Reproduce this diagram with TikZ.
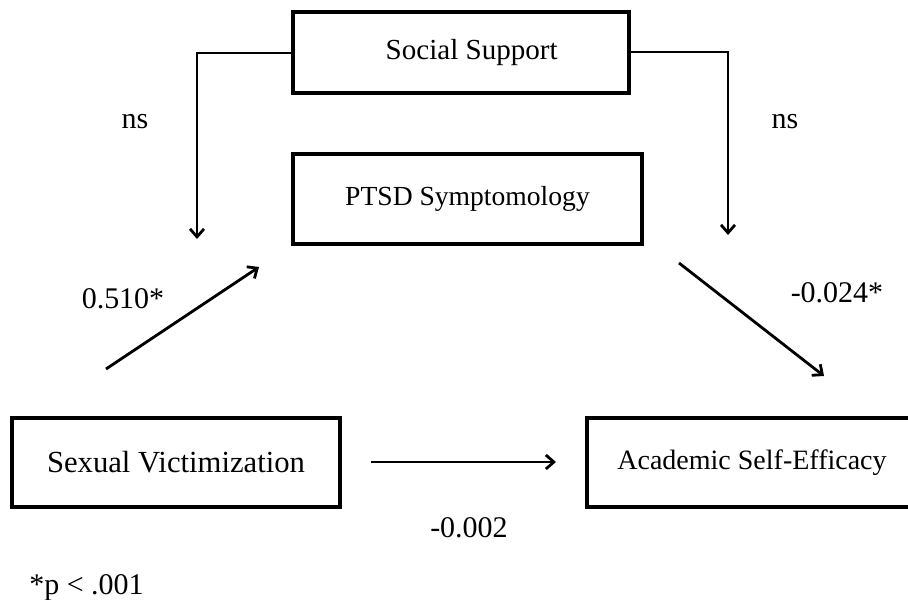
\documentclass[tikz,border=0pt]{standalone}
\usepackage{fontspec}
\setmainfont{Liberation Serif}
\usetikzlibrary{arrows.meta}
\tikzset{
  box/.style={draw, line width=2.4pt, inner sep=0pt, outer sep=0pt, align=center},
  conn/.style={line width=2.1pt, -{Straight Barb[length=6pt,width=10.5pt]}},
  lab/.style={inner sep=0pt, font=\fontsize{22.5pt}{26pt}\selectfont}
}
\begin{document}
\begin{tikzpicture}[x=0.75pt, y=-0.75pt]
\useasboundingbox (0,0) rectangle (908,600);
\fill[white] (0,0) rectangle (908,600);
% boxes
\node[box, minimum width=252pt, minimum height=60.75pt, font=\fontsize{21.8pt}{26pt}\selectfont] (soc) at (461,52.5) {\hspace*{16pt}Social Support};
\node[box, minimum width=261.75pt, minimum height=67.5pt, font=\fontsize{20.7pt}{25pt}\selectfont] (ptsd) at (467.5,199) {PTSD Symptomology};
\node[box, minimum width=246pt, minimum height=66.75pt, font=\fontsize{23pt}{27pt}\selectfont] (sv) at (176,462.5) {Sexual Victimization};
\node[box, minimum width=247.5pt, minimum height=66.75pt, font=\fontsize{21pt}{25pt}\selectfont] (ase) at (752,462.5) {Academic Self-Efficacy};
% free ends
\coordinate (lc) at (197,53);
\coordinate (lt) at (197,239);
\coordinate (rc) at (728,52);
\coordinate (rt) at (728,235);
\coordinate (a1s) at (106,369);
\coordinate (a1e) at (259,267);
\coordinate (a2s) at (679,263);
\coordinate (a2e) at (824,376);
\coordinate (a3s) at (371,462);
\coordinate (a3e) at (556,462);
% connectors
\draw[conn] (soc.west |- lc) -- (lc) -- (lt);
\draw[conn] (soc.east |- rc) -- (rc) -- (rt);
\draw[conn] (a1s) -- (a1e);
\draw[conn] (a2s) -- (a2e);
\draw[conn] (a3s) -- (a3e);
% labels
\node[lab] (ns1) at (135,121.5) {ns};
\node[lab] (ns2) at (785,121.5) {ns};
\node[lab] (b1) at (123,299) {0.510*};
\node[lab] (b2) at (837,292.5) {-0.024*};
\node[lab] (b3) at (469,528) {-0.002};
\node[lab, anchor=base west] (note) at (29,594) {*p < .001};
\end{tikzpicture}
\end{document}
